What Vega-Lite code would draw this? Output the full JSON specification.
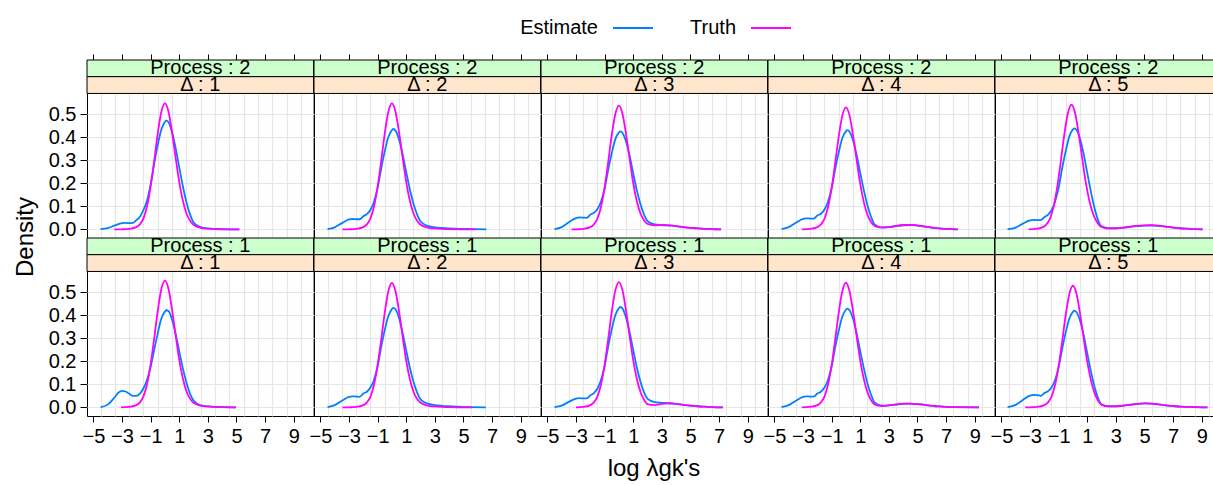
{
"$schema": "https://vega.github.io/schema/vega-lite/v6.json",
"background": "white",
"padding": {"left": 13, "top": 7, "right": 5, "bottom": 5},
"bounds": "flush",
"config": {
  "font": "Liberation Sans",
  "view": {"stroke": "black", "strokeWidth": 1},
  "axis": {"labelFont": "Liberation Sans", "labelFontSize": 20, "labelColor": "black", "tickColor": "black", "labelPadding": 4},
  "header": {"titleFont": "Liberation Sans", "titleFontWeight": "normal", "titleColor": "black", "titleFontSize": 24}
},
"data": {"values": [
{"p":2,"d":1,"s":"Estimate","x":-4.5,"y":0.001},{"p":2,"d":1,"s":"Estimate","x":-4,"y":0.006},{"p":2,"d":1,"s":"Estimate","x":-3.5,"y":0.017},{"p":2,"d":1,"s":"Estimate","x":-3,"y":0.027},{"p":2,"d":1,"s":"Estimate","x":-2.75,"y":0.028},{"p":2,"d":1,"s":"Estimate","x":-2.5,"y":0.027},{"p":2,"d":1,"s":"Estimate","x":-2.25,"y":0.028},{"p":2,"d":1,"s":"Estimate","x":-2,"y":0.04},{"p":2,"d":1,"s":"Estimate","x":-1.75,"y":0.055},{"p":2,"d":1,"s":"Estimate","x":-1.5,"y":0.084},{"p":2,"d":1,"s":"Estimate","x":-1.25,"y":0.125},{"p":2,"d":1,"s":"Estimate","x":-1,"y":0.195},{"p":2,"d":1,"s":"Estimate","x":-0.75,"y":0.286},{"p":2,"d":1,"s":"Estimate","x":-0.5,"y":0.367},{"p":2,"d":1,"s":"Estimate","x":-0.25,"y":0.433},{"p":2,"d":1,"s":"Estimate","x":0,"y":0.466},{"p":2,"d":1,"s":"Estimate","x":0.1,"y":0.471},{"p":2,"d":1,"s":"Estimate","x":0.25,"y":0.464},{"p":2,"d":1,"s":"Estimate","x":0.5,"y":0.421},{"p":2,"d":1,"s":"Estimate","x":0.75,"y":0.352},{"p":2,"d":1,"s":"Estimate","x":1,"y":0.269},{"p":2,"d":1,"s":"Estimate","x":1.25,"y":0.188},{"p":2,"d":1,"s":"Estimate","x":1.5,"y":0.118},{"p":2,"d":1,"s":"Estimate","x":1.75,"y":0.066},{"p":2,"d":1,"s":"Estimate","x":2,"y":0.03},{"p":2,"d":1,"s":"Estimate","x":2.5,"y":0.01},{"p":2,"d":1,"s":"Estimate","x":3,"y":0.004},{"p":2,"d":1,"s":"Estimate","x":3.5,"y":0.002},{"p":2,"d":1,"s":"Estimate","x":4,"y":0.001},{"p":2,"d":1,"s":"Estimate","x":5.2,"y":0},
{"p":2,"d":1,"s":"Truth","x":-3.53,"y":0},{"p":2,"d":1,"s":"Truth","x":-3,"y":0.0005},{"p":2,"d":1,"s":"Truth","x":-2.5,"y":0.002},{"p":2,"d":1,"s":"Truth","x":-2,"y":0.01},{"p":2,"d":1,"s":"Truth","x":-1.75,"y":0.022},{"p":2,"d":1,"s":"Truth","x":-1.5,"y":0.048},{"p":2,"d":1,"s":"Truth","x":-1.25,"y":0.1},{"p":2,"d":1,"s":"Truth","x":-1,"y":0.185},{"p":2,"d":1,"s":"Truth","x":-0.75,"y":0.297},{"p":2,"d":1,"s":"Truth","x":-0.5,"y":0.417},{"p":2,"d":1,"s":"Truth","x":-0.25,"y":0.51},{"p":2,"d":1,"s":"Truth","x":0,"y":0.546},{"p":2,"d":1,"s":"Truth","x":0.25,"y":0.51},{"p":2,"d":1,"s":"Truth","x":0.5,"y":0.42},{"p":2,"d":1,"s":"Truth","x":0.75,"y":0.31},{"p":2,"d":1,"s":"Truth","x":1,"y":0.205},{"p":2,"d":1,"s":"Truth","x":1.25,"y":0.125},{"p":2,"d":1,"s":"Truth","x":1.5,"y":0.07},{"p":2,"d":1,"s":"Truth","x":1.75,"y":0.038},{"p":2,"d":1,"s":"Truth","x":2,"y":0.02},{"p":2,"d":1,"s":"Truth","x":2.5,"y":0.007},{"p":2,"d":1,"s":"Truth","x":3,"y":0.003},{"p":2,"d":1,"s":"Truth","x":3.5,"y":0.001},{"p":2,"d":1,"s":"Truth","x":4,"y":0.0005},{"p":2,"d":1,"s":"Truth","x":5.2,"y":0},
{"p":2,"d":2,"s":"Estimate","x":-4.5,"y":0.001},{"p":2,"d":2,"s":"Estimate","x":-4,"y":0.009},{"p":2,"d":2,"s":"Estimate","x":-3.5,"y":0.027},{"p":2,"d":2,"s":"Estimate","x":-3,"y":0.043},{"p":2,"d":2,"s":"Estimate","x":-2.75,"y":0.045},{"p":2,"d":2,"s":"Estimate","x":-2.5,"y":0.044},{"p":2,"d":2,"s":"Estimate","x":-2.25,"y":0.044},{"p":2,"d":2,"s":"Estimate","x":-2,"y":0.057},{"p":2,"d":2,"s":"Estimate","x":-1.75,"y":0.066},{"p":2,"d":2,"s":"Estimate","x":-1.5,"y":0.085},{"p":2,"d":2,"s":"Estimate","x":-1.25,"y":0.121},{"p":2,"d":2,"s":"Estimate","x":-1,"y":0.18},{"p":2,"d":2,"s":"Estimate","x":-0.75,"y":0.264},{"p":2,"d":2,"s":"Estimate","x":-0.5,"y":0.339},{"p":2,"d":2,"s":"Estimate","x":-0.25,"y":0.4},{"p":2,"d":2,"s":"Estimate","x":0,"y":0.43},{"p":2,"d":2,"s":"Estimate","x":0.1,"y":0.435},{"p":2,"d":2,"s":"Estimate","x":0.25,"y":0.428},{"p":2,"d":2,"s":"Estimate","x":0.5,"y":0.389},{"p":2,"d":2,"s":"Estimate","x":0.75,"y":0.325},{"p":2,"d":2,"s":"Estimate","x":1,"y":0.248},{"p":2,"d":2,"s":"Estimate","x":1.25,"y":0.174},{"p":2,"d":2,"s":"Estimate","x":1.5,"y":0.112},{"p":2,"d":2,"s":"Estimate","x":1.75,"y":0.066},{"p":2,"d":2,"s":"Estimate","x":2,"y":0.034},{"p":2,"d":2,"s":"Estimate","x":2.5,"y":0.015},{"p":2,"d":2,"s":"Estimate","x":3,"y":0.009},{"p":2,"d":2,"s":"Estimate","x":3.5,"y":0.006},{"p":2,"d":2,"s":"Estimate","x":4,"y":0.004},{"p":2,"d":2,"s":"Estimate","x":5,"y":0.002},{"p":2,"d":2,"s":"Estimate","x":6.6,"y":0},
{"p":2,"d":2,"s":"Truth","x":-3.45,"y":0},{"p":2,"d":2,"s":"Truth","x":-3,"y":0.0005},{"p":2,"d":2,"s":"Truth","x":-2.5,"y":0.002},{"p":2,"d":2,"s":"Truth","x":-2,"y":0.01},{"p":2,"d":2,"s":"Truth","x":-1.75,"y":0.022},{"p":2,"d":2,"s":"Truth","x":-1.5,"y":0.048},{"p":2,"d":2,"s":"Truth","x":-1.25,"y":0.1},{"p":2,"d":2,"s":"Truth","x":-1,"y":0.185},{"p":2,"d":2,"s":"Truth","x":-0.75,"y":0.297},{"p":2,"d":2,"s":"Truth","x":-0.5,"y":0.417},{"p":2,"d":2,"s":"Truth","x":-0.25,"y":0.51},{"p":2,"d":2,"s":"Truth","x":0,"y":0.546},{"p":2,"d":2,"s":"Truth","x":0.25,"y":0.51},{"p":2,"d":2,"s":"Truth","x":0.5,"y":0.42},{"p":2,"d":2,"s":"Truth","x":0.75,"y":0.31},{"p":2,"d":2,"s":"Truth","x":1,"y":0.205},{"p":2,"d":2,"s":"Truth","x":1.25,"y":0.125},{"p":2,"d":2,"s":"Truth","x":1.5,"y":0.07},{"p":2,"d":2,"s":"Truth","x":1.75,"y":0.038},{"p":2,"d":2,"s":"Truth","x":2,"y":0.02},{"p":2,"d":2,"s":"Truth","x":2.5,"y":0.008},{"p":2,"d":2,"s":"Truth","x":3,"y":0.004},{"p":2,"d":2,"s":"Truth","x":3.5,"y":0.002},{"p":2,"d":2,"s":"Truth","x":4,"y":0.001},{"p":2,"d":2,"s":"Truth","x":5.86,"y":0},
{"p":2,"d":3,"s":"Estimate","x":-4.5,"y":0.001},{"p":2,"d":3,"s":"Estimate","x":-4,"y":0.01},{"p":2,"d":3,"s":"Estimate","x":-3.5,"y":0.031},{"p":2,"d":3,"s":"Estimate","x":-3,"y":0.049},{"p":2,"d":3,"s":"Estimate","x":-2.75,"y":0.052},{"p":2,"d":3,"s":"Estimate","x":-2.5,"y":0.051},{"p":2,"d":3,"s":"Estimate","x":-2.25,"y":0.05},{"p":2,"d":3,"s":"Estimate","x":-2,"y":0.064},{"p":2,"d":3,"s":"Estimate","x":-1.75,"y":0.072},{"p":2,"d":3,"s":"Estimate","x":-1.5,"y":0.088},{"p":2,"d":3,"s":"Estimate","x":-1.25,"y":0.121},{"p":2,"d":3,"s":"Estimate","x":-1,"y":0.176},{"p":2,"d":3,"s":"Estimate","x":-0.75,"y":0.258},{"p":2,"d":3,"s":"Estimate","x":-0.5,"y":0.331},{"p":2,"d":3,"s":"Estimate","x":-0.25,"y":0.391},{"p":2,"d":3,"s":"Estimate","x":0,"y":0.42},{"p":2,"d":3,"s":"Estimate","x":0.1,"y":0.425},{"p":2,"d":3,"s":"Estimate","x":0.25,"y":0.418},{"p":2,"d":3,"s":"Estimate","x":0.5,"y":0.38},{"p":2,"d":3,"s":"Estimate","x":0.75,"y":0.318},{"p":2,"d":3,"s":"Estimate","x":1,"y":0.242},{"p":2,"d":3,"s":"Estimate","x":1.25,"y":0.17},{"p":2,"d":3,"s":"Estimate","x":1.5,"y":0.11},{"p":2,"d":3,"s":"Estimate","x":1.75,"y":0.065},{"p":2,"d":3,"s":"Estimate","x":2,"y":0.036},{"p":2,"d":3,"s":"Estimate","x":2.5,"y":0.022},{"p":2,"d":3,"s":"Estimate","x":3,"y":0.019},{"p":2,"d":3,"s":"Estimate","x":3.5,"y":0.017},{"p":2,"d":3,"s":"Estimate","x":4,"y":0.014},{"p":2,"d":3,"s":"Estimate","x":4.5,"y":0.01},{"p":2,"d":3,"s":"Estimate","x":5,"y":0.007},{"p":2,"d":3,"s":"Estimate","x":5.5,"y":0.004},{"p":2,"d":3,"s":"Estimate","x":6,"y":0.002},{"p":2,"d":3,"s":"Estimate","x":6.5,"y":0.001},{"p":2,"d":3,"s":"Estimate","x":7.14,"y":0},
{"p":2,"d":3,"s":"Truth","x":-3.31,"y":0},{"p":2,"d":3,"s":"Truth","x":-3,"y":0.0005},{"p":2,"d":3,"s":"Truth","x":-2.5,"y":0.002},{"p":2,"d":3,"s":"Truth","x":-2,"y":0.01},{"p":2,"d":3,"s":"Truth","x":-1.75,"y":0.022},{"p":2,"d":3,"s":"Truth","x":-1.5,"y":0.047},{"p":2,"d":3,"s":"Truth","x":-1.25,"y":0.098},{"p":2,"d":3,"s":"Truth","x":-1,"y":0.182},{"p":2,"d":3,"s":"Truth","x":-0.75,"y":0.292},{"p":2,"d":3,"s":"Truth","x":-0.5,"y":0.41},{"p":2,"d":3,"s":"Truth","x":-0.25,"y":0.5},{"p":2,"d":3,"s":"Truth","x":0,"y":0.536},{"p":2,"d":3,"s":"Truth","x":0.25,"y":0.5},{"p":2,"d":3,"s":"Truth","x":0.5,"y":0.412},{"p":2,"d":3,"s":"Truth","x":0.75,"y":0.304},{"p":2,"d":3,"s":"Truth","x":1,"y":0.2},{"p":2,"d":3,"s":"Truth","x":1.25,"y":0.122},{"p":2,"d":3,"s":"Truth","x":1.5,"y":0.07},{"p":2,"d":3,"s":"Truth","x":1.75,"y":0.04},{"p":2,"d":3,"s":"Truth","x":2,"y":0.024},{"p":2,"d":3,"s":"Truth","x":2.5,"y":0.018},{"p":2,"d":3,"s":"Truth","x":3,"y":0.019},{"p":2,"d":3,"s":"Truth","x":3.5,"y":0.017},{"p":2,"d":3,"s":"Truth","x":4,"y":0.014},{"p":2,"d":3,"s":"Truth","x":4.5,"y":0.01},{"p":2,"d":3,"s":"Truth","x":5,"y":0.007},{"p":2,"d":3,"s":"Truth","x":5.5,"y":0.004},{"p":2,"d":3,"s":"Truth","x":6,"y":0.002},{"p":2,"d":3,"s":"Truth","x":6.5,"y":0.001},{"p":2,"d":3,"s":"Truth","x":7.14,"y":0},
{"p":2,"d":4,"s":"Estimate","x":-4.5,"y":0.001},{"p":2,"d":4,"s":"Estimate","x":-4,"y":0.01},{"p":2,"d":4,"s":"Estimate","x":-3.5,"y":0.029},{"p":2,"d":4,"s":"Estimate","x":-3,"y":0.046},{"p":2,"d":4,"s":"Estimate","x":-2.75,"y":0.048},{"p":2,"d":4,"s":"Estimate","x":-2.5,"y":0.047},{"p":2,"d":4,"s":"Estimate","x":-2.25,"y":0.047},{"p":2,"d":4,"s":"Estimate","x":-2,"y":0.06},{"p":2,"d":4,"s":"Estimate","x":-1.75,"y":0.068},{"p":2,"d":4,"s":"Estimate","x":-1.5,"y":0.086},{"p":2,"d":4,"s":"Estimate","x":-1.25,"y":0.12},{"p":2,"d":4,"s":"Estimate","x":-1,"y":0.178},{"p":2,"d":4,"s":"Estimate","x":-0.75,"y":0.261},{"p":2,"d":4,"s":"Estimate","x":-0.5,"y":0.335},{"p":2,"d":4,"s":"Estimate","x":-0.25,"y":0.396},{"p":2,"d":4,"s":"Estimate","x":0,"y":0.425},{"p":2,"d":4,"s":"Estimate","x":0.1,"y":0.43},{"p":2,"d":4,"s":"Estimate","x":0.25,"y":0.423},{"p":2,"d":4,"s":"Estimate","x":0.5,"y":0.385},{"p":2,"d":4,"s":"Estimate","x":0.75,"y":0.321},{"p":2,"d":4,"s":"Estimate","x":1,"y":0.245},{"p":2,"d":4,"s":"Estimate","x":1.25,"y":0.17},{"p":2,"d":4,"s":"Estimate","x":1.5,"y":0.105},{"p":2,"d":4,"s":"Estimate","x":1.75,"y":0.056},{"p":2,"d":4,"s":"Estimate","x":2,"y":0.022},{"p":2,"d":4,"s":"Estimate","x":2.5,"y":0.009},{"p":2,"d":4,"s":"Estimate","x":3,"y":0.01},{"p":2,"d":4,"s":"Estimate","x":3.5,"y":0.014},{"p":2,"d":4,"s":"Estimate","x":4,"y":0.018},{"p":2,"d":4,"s":"Estimate","x":4.5,"y":0.019},{"p":2,"d":4,"s":"Estimate","x":5,"y":0.016},{"p":2,"d":4,"s":"Estimate","x":5.5,"y":0.012},{"p":2,"d":4,"s":"Estimate","x":6,"y":0.008},{"p":2,"d":4,"s":"Estimate","x":6.5,"y":0.004},{"p":2,"d":4,"s":"Estimate","x":7,"y":0.002},{"p":2,"d":4,"s":"Estimate","x":7.82,"y":0},
{"p":2,"d":4,"s":"Truth","x":-3.08,"y":0},{"p":2,"d":4,"s":"Truth","x":-2.5,"y":0.002},{"p":2,"d":4,"s":"Truth","x":-2,"y":0.01},{"p":2,"d":4,"s":"Truth","x":-1.75,"y":0.021},{"p":2,"d":4,"s":"Truth","x":-1.5,"y":0.046},{"p":2,"d":4,"s":"Truth","x":-1.25,"y":0.097},{"p":2,"d":4,"s":"Truth","x":-1,"y":0.179},{"p":2,"d":4,"s":"Truth","x":-0.75,"y":0.288},{"p":2,"d":4,"s":"Truth","x":-0.5,"y":0.404},{"p":2,"d":4,"s":"Truth","x":-0.25,"y":0.494},{"p":2,"d":4,"s":"Truth","x":0,"y":0.529},{"p":2,"d":4,"s":"Truth","x":0.25,"y":0.494},{"p":2,"d":4,"s":"Truth","x":0.5,"y":0.407},{"p":2,"d":4,"s":"Truth","x":0.75,"y":0.3},{"p":2,"d":4,"s":"Truth","x":1,"y":0.197},{"p":2,"d":4,"s":"Truth","x":1.25,"y":0.118},{"p":2,"d":4,"s":"Truth","x":1.5,"y":0.064},{"p":2,"d":4,"s":"Truth","x":1.75,"y":0.033},{"p":2,"d":4,"s":"Truth","x":2,"y":0.015},{"p":2,"d":4,"s":"Truth","x":2.5,"y":0.008},{"p":2,"d":4,"s":"Truth","x":3,"y":0.01},{"p":2,"d":4,"s":"Truth","x":3.5,"y":0.015},{"p":2,"d":4,"s":"Truth","x":4,"y":0.019},{"p":2,"d":4,"s":"Truth","x":4.5,"y":0.02},{"p":2,"d":4,"s":"Truth","x":5,"y":0.017},{"p":2,"d":4,"s":"Truth","x":5.5,"y":0.013},{"p":2,"d":4,"s":"Truth","x":6,"y":0.008},{"p":2,"d":4,"s":"Truth","x":6.5,"y":0.004},{"p":2,"d":4,"s":"Truth","x":7,"y":0.002},{"p":2,"d":4,"s":"Truth","x":7.82,"y":0},
{"p":2,"d":5,"s":"Estimate","x":-4.57,"y":0.001},{"p":2,"d":5,"s":"Estimate","x":-4,"y":0.008},{"p":2,"d":5,"s":"Estimate","x":-3.5,"y":0.025},{"p":2,"d":5,"s":"Estimate","x":-3,"y":0.039},{"p":2,"d":5,"s":"Estimate","x":-2.75,"y":0.041},{"p":2,"d":5,"s":"Estimate","x":-2.5,"y":0.04},{"p":2,"d":5,"s":"Estimate","x":-2.25,"y":0.04},{"p":2,"d":5,"s":"Estimate","x":-2,"y":0.053},{"p":2,"d":5,"s":"Estimate","x":-1.75,"y":0.063},{"p":2,"d":5,"s":"Estimate","x":-1.5,"y":0.083},{"p":2,"d":5,"s":"Estimate","x":-1.25,"y":0.12},{"p":2,"d":5,"s":"Estimate","x":-1,"y":0.18},{"p":2,"d":5,"s":"Estimate","x":-0.75,"y":0.266},{"p":2,"d":5,"s":"Estimate","x":-0.5,"y":0.341},{"p":2,"d":5,"s":"Estimate","x":-0.25,"y":0.403},{"p":2,"d":5,"s":"Estimate","x":0,"y":0.433},{"p":2,"d":5,"s":"Estimate","x":0.1,"y":0.438},{"p":2,"d":5,"s":"Estimate","x":0.25,"y":0.431},{"p":2,"d":5,"s":"Estimate","x":0.5,"y":0.392},{"p":2,"d":5,"s":"Estimate","x":0.75,"y":0.327},{"p":2,"d":5,"s":"Estimate","x":1,"y":0.245},{"p":2,"d":5,"s":"Estimate","x":1.25,"y":0.165},{"p":2,"d":5,"s":"Estimate","x":1.5,"y":0.095},{"p":2,"d":5,"s":"Estimate","x":1.75,"y":0.042},{"p":2,"d":5,"s":"Estimate","x":2,"y":0.013},{"p":2,"d":5,"s":"Estimate","x":2.5,"y":0.005},{"p":2,"d":5,"s":"Estimate","x":3,"y":0.005},{"p":2,"d":5,"s":"Estimate","x":3.5,"y":0.007},{"p":2,"d":5,"s":"Estimate","x":4,"y":0.011},{"p":2,"d":5,"s":"Estimate","x":4.5,"y":0.014},{"p":2,"d":5,"s":"Estimate","x":5,"y":0.016},{"p":2,"d":5,"s":"Estimate","x":5.5,"y":0.017},{"p":2,"d":5,"s":"Estimate","x":6,"y":0.015},{"p":2,"d":5,"s":"Estimate","x":6.5,"y":0.012},{"p":2,"d":5,"s":"Estimate","x":7,"y":0.008},{"p":2,"d":5,"s":"Estimate","x":7.5,"y":0.005},{"p":2,"d":5,"s":"Estimate","x":8,"y":0.003},{"p":2,"d":5,"s":"Estimate","x":8.5,"y":0.001},{"p":2,"d":5,"s":"Estimate","x":9.06,"y":0},
{"p":2,"d":5,"s":"Truth","x":-3.1,"y":0},{"p":2,"d":5,"s":"Truth","x":-2.6,"y":0.002},{"p":2,"d":5,"s":"Truth","x":-2.1,"y":0.01},{"p":2,"d":5,"s":"Truth","x":-1.85,"y":0.022},{"p":2,"d":5,"s":"Truth","x":-1.6,"y":0.047},{"p":2,"d":5,"s":"Truth","x":-1.35,"y":0.099},{"p":2,"d":5,"s":"Truth","x":-1.1,"y":0.183},{"p":2,"d":5,"s":"Truth","x":-0.85,"y":0.294},{"p":2,"d":5,"s":"Truth","x":-0.6,"y":0.412},{"p":2,"d":5,"s":"Truth","x":-0.35,"y":0.504},{"p":2,"d":5,"s":"Truth","x":-0.1,"y":0.54},{"p":2,"d":5,"s":"Truth","x":0.15,"y":0.504},{"p":2,"d":5,"s":"Truth","x":0.4,"y":0.415},{"p":2,"d":5,"s":"Truth","x":0.65,"y":0.307},{"p":2,"d":5,"s":"Truth","x":0.9,"y":0.203},{"p":2,"d":5,"s":"Truth","x":1.15,"y":0.124},{"p":2,"d":5,"s":"Truth","x":1.4,"y":0.069},{"p":2,"d":5,"s":"Truth","x":1.65,"y":0.035},{"p":2,"d":5,"s":"Truth","x":1.9,"y":0.014},{"p":2,"d":5,"s":"Truth","x":2.25,"y":0.006},{"p":2,"d":5,"s":"Truth","x":2.5,"y":0.004},{"p":2,"d":5,"s":"Truth","x":3,"y":0.005},{"p":2,"d":5,"s":"Truth","x":3.5,"y":0.008},{"p":2,"d":5,"s":"Truth","x":4,"y":0.012},{"p":2,"d":5,"s":"Truth","x":4.5,"y":0.015},{"p":2,"d":5,"s":"Truth","x":5,"y":0.017},{"p":2,"d":5,"s":"Truth","x":5.5,"y":0.018},{"p":2,"d":5,"s":"Truth","x":6,"y":0.016},{"p":2,"d":5,"s":"Truth","x":6.5,"y":0.012},{"p":2,"d":5,"s":"Truth","x":7,"y":0.008},{"p":2,"d":5,"s":"Truth","x":7.5,"y":0.005},{"p":2,"d":5,"s":"Truth","x":8,"y":0.003},{"p":2,"d":5,"s":"Truth","x":8.5,"y":0.001},{"p":2,"d":5,"s":"Truth","x":9.06,"y":0},
{"p":1,"d":1,"s":"Estimate","x":-4.5,"y":0.001},{"p":1,"d":1,"s":"Estimate","x":-4,"y":0.012},{"p":1,"d":1,"s":"Estimate","x":-3.5,"y":0.045},{"p":1,"d":1,"s":"Estimate","x":-3.25,"y":0.064},{"p":1,"d":1,"s":"Estimate","x":-3,"y":0.072},{"p":1,"d":1,"s":"Estimate","x":-2.75,"y":0.069},{"p":1,"d":1,"s":"Estimate","x":-2.5,"y":0.059},{"p":1,"d":1,"s":"Estimate","x":-2.25,"y":0.05},{"p":1,"d":1,"s":"Estimate","x":-2,"y":0.05},{"p":1,"d":1,"s":"Estimate","x":-1.75,"y":0.06},{"p":1,"d":1,"s":"Estimate","x":-1.5,"y":0.083},{"p":1,"d":1,"s":"Estimate","x":-1.25,"y":0.12},{"p":1,"d":1,"s":"Estimate","x":-1,"y":0.175},{"p":1,"d":1,"s":"Estimate","x":-0.75,"y":0.25},{"p":1,"d":1,"s":"Estimate","x":-0.5,"y":0.322},{"p":1,"d":1,"s":"Estimate","x":-0.25,"y":0.385},{"p":1,"d":1,"s":"Estimate","x":0,"y":0.415},{"p":1,"d":1,"s":"Estimate","x":0.1,"y":0.421},{"p":1,"d":1,"s":"Estimate","x":0.25,"y":0.418},{"p":1,"d":1,"s":"Estimate","x":0.5,"y":0.38},{"p":1,"d":1,"s":"Estimate","x":0.75,"y":0.318},{"p":1,"d":1,"s":"Estimate","x":1,"y":0.243},{"p":1,"d":1,"s":"Estimate","x":1.25,"y":0.17},{"p":1,"d":1,"s":"Estimate","x":1.5,"y":0.108},{"p":1,"d":1,"s":"Estimate","x":1.75,"y":0.06},{"p":1,"d":1,"s":"Estimate","x":2,"y":0.03},{"p":1,"d":1,"s":"Estimate","x":2.5,"y":0.009},{"p":1,"d":1,"s":"Estimate","x":3,"y":0.004},{"p":1,"d":1,"s":"Estimate","x":3.5,"y":0.002},{"p":1,"d":1,"s":"Estimate","x":4,"y":0.001},{"p":1,"d":1,"s":"Estimate","x":4.97,"y":0},
{"p":1,"d":1,"s":"Truth","x":-3.07,"y":0},{"p":1,"d":1,"s":"Truth","x":-2.5,"y":0.002},{"p":1,"d":1,"s":"Truth","x":-2,"y":0.01},{"p":1,"d":1,"s":"Truth","x":-1.75,"y":0.022},{"p":1,"d":1,"s":"Truth","x":-1.5,"y":0.048},{"p":1,"d":1,"s":"Truth","x":-1.25,"y":0.1},{"p":1,"d":1,"s":"Truth","x":-1,"y":0.186},{"p":1,"d":1,"s":"Truth","x":-0.75,"y":0.299},{"p":1,"d":1,"s":"Truth","x":-0.5,"y":0.419},{"p":1,"d":1,"s":"Truth","x":-0.25,"y":0.513},{"p":1,"d":1,"s":"Truth","x":0,"y":0.549},{"p":1,"d":1,"s":"Truth","x":0.25,"y":0.513},{"p":1,"d":1,"s":"Truth","x":0.5,"y":0.422},{"p":1,"d":1,"s":"Truth","x":0.75,"y":0.312},{"p":1,"d":1,"s":"Truth","x":1,"y":0.206},{"p":1,"d":1,"s":"Truth","x":1.25,"y":0.126},{"p":1,"d":1,"s":"Truth","x":1.5,"y":0.07},{"p":1,"d":1,"s":"Truth","x":1.75,"y":0.038},{"p":1,"d":1,"s":"Truth","x":2,"y":0.02},{"p":1,"d":1,"s":"Truth","x":2.5,"y":0.008},{"p":1,"d":1,"s":"Truth","x":3,"y":0.004},{"p":1,"d":1,"s":"Truth","x":3.5,"y":0.002},{"p":1,"d":1,"s":"Truth","x":4,"y":0.001},{"p":1,"d":1,"s":"Truth","x":4.97,"y":0},
{"p":1,"d":2,"s":"Estimate","x":-4.5,"y":0.001},{"p":1,"d":2,"s":"Estimate","x":-4,"y":0.01},{"p":1,"d":2,"s":"Estimate","x":-3.5,"y":0.029},{"p":1,"d":2,"s":"Estimate","x":-3,"y":0.046},{"p":1,"d":2,"s":"Estimate","x":-2.75,"y":0.048},{"p":1,"d":2,"s":"Estimate","x":-2.5,"y":0.047},{"p":1,"d":2,"s":"Estimate","x":-2.25,"y":0.046},{"p":1,"d":2,"s":"Estimate","x":-2,"y":0.06},{"p":1,"d":2,"s":"Estimate","x":-1.75,"y":0.068},{"p":1,"d":2,"s":"Estimate","x":-1.5,"y":0.086},{"p":1,"d":2,"s":"Estimate","x":-1.25,"y":0.12},{"p":1,"d":2,"s":"Estimate","x":-1,"y":0.178},{"p":1,"d":2,"s":"Estimate","x":-0.75,"y":0.262},{"p":1,"d":2,"s":"Estimate","x":-0.5,"y":0.336},{"p":1,"d":2,"s":"Estimate","x":-0.25,"y":0.396},{"p":1,"d":2,"s":"Estimate","x":0,"y":0.426},{"p":1,"d":2,"s":"Estimate","x":0.1,"y":0.431},{"p":1,"d":2,"s":"Estimate","x":0.25,"y":0.425},{"p":1,"d":2,"s":"Estimate","x":0.5,"y":0.386},{"p":1,"d":2,"s":"Estimate","x":0.75,"y":0.322},{"p":1,"d":2,"s":"Estimate","x":1,"y":0.246},{"p":1,"d":2,"s":"Estimate","x":1.25,"y":0.173},{"p":1,"d":2,"s":"Estimate","x":1.5,"y":0.112},{"p":1,"d":2,"s":"Estimate","x":1.75,"y":0.066},{"p":1,"d":2,"s":"Estimate","x":2,"y":0.035},{"p":1,"d":2,"s":"Estimate","x":2.5,"y":0.016},{"p":1,"d":2,"s":"Estimate","x":3,"y":0.01},{"p":1,"d":2,"s":"Estimate","x":3.5,"y":0.007},{"p":1,"d":2,"s":"Estimate","x":4,"y":0.005},{"p":1,"d":2,"s":"Estimate","x":5,"y":0.002},{"p":1,"d":2,"s":"Estimate","x":6.56,"y":0},
{"p":1,"d":2,"s":"Truth","x":-3.45,"y":0},{"p":1,"d":2,"s":"Truth","x":-3,"y":0.0005},{"p":1,"d":2,"s":"Truth","x":-2.5,"y":0.002},{"p":1,"d":2,"s":"Truth","x":-2,"y":0.01},{"p":1,"d":2,"s":"Truth","x":-1.75,"y":0.022},{"p":1,"d":2,"s":"Truth","x":-1.5,"y":0.047},{"p":1,"d":2,"s":"Truth","x":-1.25,"y":0.099},{"p":1,"d":2,"s":"Truth","x":-1,"y":0.183},{"p":1,"d":2,"s":"Truth","x":-0.75,"y":0.293},{"p":1,"d":2,"s":"Truth","x":-0.5,"y":0.412},{"p":1,"d":2,"s":"Truth","x":-0.25,"y":0.503},{"p":1,"d":2,"s":"Truth","x":0,"y":0.539},{"p":1,"d":2,"s":"Truth","x":0.25,"y":0.503},{"p":1,"d":2,"s":"Truth","x":0.5,"y":0.415},{"p":1,"d":2,"s":"Truth","x":0.75,"y":0.306},{"p":1,"d":2,"s":"Truth","x":1,"y":0.202},{"p":1,"d":2,"s":"Truth","x":1.25,"y":0.123},{"p":1,"d":2,"s":"Truth","x":1.5,"y":0.069},{"p":1,"d":2,"s":"Truth","x":1.75,"y":0.037},{"p":1,"d":2,"s":"Truth","x":2,"y":0.02},{"p":1,"d":2,"s":"Truth","x":2.5,"y":0.008},{"p":1,"d":2,"s":"Truth","x":3,"y":0.004},{"p":1,"d":2,"s":"Truth","x":3.5,"y":0.002},{"p":1,"d":2,"s":"Truth","x":4,"y":0.001},{"p":1,"d":2,"s":"Truth","x":5.57,"y":0},
{"p":1,"d":3,"s":"Estimate","x":-4.5,"y":0.001},{"p":1,"d":3,"s":"Estimate","x":-4,"y":0.008},{"p":1,"d":3,"s":"Estimate","x":-3.5,"y":0.024},{"p":1,"d":3,"s":"Estimate","x":-3,"y":0.038},{"p":1,"d":3,"s":"Estimate","x":-2.75,"y":0.04},{"p":1,"d":3,"s":"Estimate","x":-2.5,"y":0.039},{"p":1,"d":3,"s":"Estimate","x":-2.25,"y":0.039},{"p":1,"d":3,"s":"Estimate","x":-2,"y":0.052},{"p":1,"d":3,"s":"Estimate","x":-1.75,"y":0.062},{"p":1,"d":3,"s":"Estimate","x":-1.5,"y":0.082},{"p":1,"d":3,"s":"Estimate","x":-1.25,"y":0.12},{"p":1,"d":3,"s":"Estimate","x":-1,"y":0.179},{"p":1,"d":3,"s":"Estimate","x":-0.75,"y":0.264},{"p":1,"d":3,"s":"Estimate","x":-0.5,"y":0.339},{"p":1,"d":3,"s":"Estimate","x":-0.25,"y":0.4},{"p":1,"d":3,"s":"Estimate","x":0,"y":0.43},{"p":1,"d":3,"s":"Estimate","x":0.1,"y":0.435},{"p":1,"d":3,"s":"Estimate","x":0.25,"y":0.428},{"p":1,"d":3,"s":"Estimate","x":0.5,"y":0.389},{"p":1,"d":3,"s":"Estimate","x":0.75,"y":0.325},{"p":1,"d":3,"s":"Estimate","x":1,"y":0.248},{"p":1,"d":3,"s":"Estimate","x":1.25,"y":0.174},{"p":1,"d":3,"s":"Estimate","x":1.5,"y":0.112},{"p":1,"d":3,"s":"Estimate","x":1.75,"y":0.066},{"p":1,"d":3,"s":"Estimate","x":2,"y":0.037},{"p":1,"d":3,"s":"Estimate","x":2.5,"y":0.023},{"p":1,"d":3,"s":"Estimate","x":3,"y":0.02},{"p":1,"d":3,"s":"Estimate","x":3.5,"y":0.018},{"p":1,"d":3,"s":"Estimate","x":4,"y":0.015},{"p":1,"d":3,"s":"Estimate","x":4.5,"y":0.011},{"p":1,"d":3,"s":"Estimate","x":5,"y":0.008},{"p":1,"d":3,"s":"Estimate","x":5.5,"y":0.005},{"p":1,"d":3,"s":"Estimate","x":6,"y":0.003},{"p":1,"d":3,"s":"Estimate","x":6.5,"y":0.001},{"p":1,"d":3,"s":"Estimate","x":7.26,"y":0},
{"p":1,"d":3,"s":"Truth","x":-3,"y":0},{"p":1,"d":3,"s":"Truth","x":-2.5,"y":0.002},{"p":1,"d":3,"s":"Truth","x":-2,"y":0.01},{"p":1,"d":3,"s":"Truth","x":-1.75,"y":0.022},{"p":1,"d":3,"s":"Truth","x":-1.5,"y":0.048},{"p":1,"d":3,"s":"Truth","x":-1.25,"y":0.1},{"p":1,"d":3,"s":"Truth","x":-1,"y":0.184},{"p":1,"d":3,"s":"Truth","x":-0.75,"y":0.295},{"p":1,"d":3,"s":"Truth","x":-0.5,"y":0.415},{"p":1,"d":3,"s":"Truth","x":-0.25,"y":0.507},{"p":1,"d":3,"s":"Truth","x":0,"y":0.543},{"p":1,"d":3,"s":"Truth","x":0.25,"y":0.507},{"p":1,"d":3,"s":"Truth","x":0.5,"y":0.418},{"p":1,"d":3,"s":"Truth","x":0.75,"y":0.308},{"p":1,"d":3,"s":"Truth","x":1,"y":0.204},{"p":1,"d":3,"s":"Truth","x":1.25,"y":0.124},{"p":1,"d":3,"s":"Truth","x":1.5,"y":0.068},{"p":1,"d":3,"s":"Truth","x":1.75,"y":0.034},{"p":1,"d":3,"s":"Truth","x":2,"y":0.014},{"p":1,"d":3,"s":"Truth","x":2.5,"y":0.01},{"p":1,"d":3,"s":"Truth","x":3,"y":0.015},{"p":1,"d":3,"s":"Truth","x":3.5,"y":0.017},{"p":1,"d":3,"s":"Truth","x":4,"y":0.015},{"p":1,"d":3,"s":"Truth","x":4.5,"y":0.011},{"p":1,"d":3,"s":"Truth","x":5,"y":0.008},{"p":1,"d":3,"s":"Truth","x":5.5,"y":0.005},{"p":1,"d":3,"s":"Truth","x":6,"y":0.003},{"p":1,"d":3,"s":"Truth","x":6.5,"y":0.001},{"p":1,"d":3,"s":"Truth","x":7.26,"y":0},
{"p":1,"d":4,"s":"Estimate","x":-4.5,"y":0.001},{"p":1,"d":4,"s":"Estimate","x":-4,"y":0.01},{"p":1,"d":4,"s":"Estimate","x":-3.5,"y":0.029},{"p":1,"d":4,"s":"Estimate","x":-3,"y":0.046},{"p":1,"d":4,"s":"Estimate","x":-2.75,"y":0.048},{"p":1,"d":4,"s":"Estimate","x":-2.5,"y":0.047},{"p":1,"d":4,"s":"Estimate","x":-2.25,"y":0.047},{"p":1,"d":4,"s":"Estimate","x":-2,"y":0.06},{"p":1,"d":4,"s":"Estimate","x":-1.75,"y":0.068},{"p":1,"d":4,"s":"Estimate","x":-1.5,"y":0.086},{"p":1,"d":4,"s":"Estimate","x":-1.25,"y":0.12},{"p":1,"d":4,"s":"Estimate","x":-1,"y":0.177},{"p":1,"d":4,"s":"Estimate","x":-0.75,"y":0.26},{"p":1,"d":4,"s":"Estimate","x":-0.5,"y":0.334},{"p":1,"d":4,"s":"Estimate","x":-0.25,"y":0.394},{"p":1,"d":4,"s":"Estimate","x":0,"y":0.423},{"p":1,"d":4,"s":"Estimate","x":0.1,"y":0.428},{"p":1,"d":4,"s":"Estimate","x":0.25,"y":0.421},{"p":1,"d":4,"s":"Estimate","x":0.5,"y":0.383},{"p":1,"d":4,"s":"Estimate","x":0.75,"y":0.32},{"p":1,"d":4,"s":"Estimate","x":1,"y":0.244},{"p":1,"d":4,"s":"Estimate","x":1.25,"y":0.17},{"p":1,"d":4,"s":"Estimate","x":1.5,"y":0.105},{"p":1,"d":4,"s":"Estimate","x":1.75,"y":0.056},{"p":1,"d":4,"s":"Estimate","x":2,"y":0.022},{"p":1,"d":4,"s":"Estimate","x":2.5,"y":0.008},{"p":1,"d":4,"s":"Estimate","x":3,"y":0.009},{"p":1,"d":4,"s":"Estimate","x":3.5,"y":0.012},{"p":1,"d":4,"s":"Estimate","x":4,"y":0.015},{"p":1,"d":4,"s":"Estimate","x":4.5,"y":0.016},{"p":1,"d":4,"s":"Estimate","x":5,"y":0.014},{"p":1,"d":4,"s":"Estimate","x":5.5,"y":0.011},{"p":1,"d":4,"s":"Estimate","x":6,"y":0.007},{"p":1,"d":4,"s":"Estimate","x":6.5,"y":0.004},{"p":1,"d":4,"s":"Estimate","x":7,"y":0.002},{"p":1,"d":4,"s":"Estimate","x":7.5,"y":0.001},{"p":1,"d":4,"s":"Estimate","x":9.3,"y":0},
{"p":1,"d":4,"s":"Truth","x":-3.08,"y":0},{"p":1,"d":4,"s":"Truth","x":-2.5,"y":0.002},{"p":1,"d":4,"s":"Truth","x":-2,"y":0.01},{"p":1,"d":4,"s":"Truth","x":-1.75,"y":0.022},{"p":1,"d":4,"s":"Truth","x":-1.5,"y":0.047},{"p":1,"d":4,"s":"Truth","x":-1.25,"y":0.099},{"p":1,"d":4,"s":"Truth","x":-1,"y":0.183},{"p":1,"d":4,"s":"Truth","x":-0.75,"y":0.294},{"p":1,"d":4,"s":"Truth","x":-0.5,"y":0.412},{"p":1,"d":4,"s":"Truth","x":-0.25,"y":0.504},{"p":1,"d":4,"s":"Truth","x":0,"y":0.54},{"p":1,"d":4,"s":"Truth","x":0.25,"y":0.504},{"p":1,"d":4,"s":"Truth","x":0.5,"y":0.415},{"p":1,"d":4,"s":"Truth","x":0.75,"y":0.307},{"p":1,"d":4,"s":"Truth","x":1,"y":0.203},{"p":1,"d":4,"s":"Truth","x":1.25,"y":0.123},{"p":1,"d":4,"s":"Truth","x":1.5,"y":0.066},{"p":1,"d":4,"s":"Truth","x":1.75,"y":0.032},{"p":1,"d":4,"s":"Truth","x":2,"y":0.013},{"p":1,"d":4,"s":"Truth","x":2.5,"y":0.006},{"p":1,"d":4,"s":"Truth","x":3,"y":0.009},{"p":1,"d":4,"s":"Truth","x":3.5,"y":0.013},{"p":1,"d":4,"s":"Truth","x":4,"y":0.016},{"p":1,"d":4,"s":"Truth","x":4.5,"y":0.016},{"p":1,"d":4,"s":"Truth","x":5,"y":0.014},{"p":1,"d":4,"s":"Truth","x":5.5,"y":0.011},{"p":1,"d":4,"s":"Truth","x":6,"y":0.007},{"p":1,"d":4,"s":"Truth","x":6.5,"y":0.004},{"p":1,"d":4,"s":"Truth","x":7,"y":0.002},{"p":1,"d":4,"s":"Truth","x":7.5,"y":0.001},{"p":1,"d":4,"s":"Truth","x":9.3,"y":0},
{"p":1,"d":5,"s":"Estimate","x":-4.57,"y":0.001},{"p":1,"d":5,"s":"Estimate","x":-4,"y":0.011},{"p":1,"d":5,"s":"Estimate","x":-3.5,"y":0.032},{"p":1,"d":5,"s":"Estimate","x":-3,"y":0.051},{"p":1,"d":5,"s":"Estimate","x":-2.75,"y":0.054},{"p":1,"d":5,"s":"Estimate","x":-2.5,"y":0.053},{"p":1,"d":5,"s":"Estimate","x":-2.25,"y":0.05},{"p":1,"d":5,"s":"Estimate","x":-2,"y":0.062},{"p":1,"d":5,"s":"Estimate","x":-1.75,"y":0.07},{"p":1,"d":5,"s":"Estimate","x":-1.5,"y":0.086},{"p":1,"d":5,"s":"Estimate","x":-1.25,"y":0.119},{"p":1,"d":5,"s":"Estimate","x":-1,"y":0.174},{"p":1,"d":5,"s":"Estimate","x":-0.75,"y":0.254},{"p":1,"d":5,"s":"Estimate","x":-0.5,"y":0.326},{"p":1,"d":5,"s":"Estimate","x":-0.25,"y":0.385},{"p":1,"d":5,"s":"Estimate","x":0,"y":0.414},{"p":1,"d":5,"s":"Estimate","x":0.1,"y":0.419},{"p":1,"d":5,"s":"Estimate","x":0.25,"y":0.412},{"p":1,"d":5,"s":"Estimate","x":0.5,"y":0.375},{"p":1,"d":5,"s":"Estimate","x":0.75,"y":0.313},{"p":1,"d":5,"s":"Estimate","x":1,"y":0.235},{"p":1,"d":5,"s":"Estimate","x":1.25,"y":0.158},{"p":1,"d":5,"s":"Estimate","x":1.5,"y":0.092},{"p":1,"d":5,"s":"Estimate","x":1.75,"y":0.041},{"p":1,"d":5,"s":"Estimate","x":2,"y":0.012},{"p":1,"d":5,"s":"Estimate","x":2.5,"y":0.005},{"p":1,"d":5,"s":"Estimate","x":3,"y":0.005},{"p":1,"d":5,"s":"Estimate","x":3.5,"y":0.008},{"p":1,"d":5,"s":"Estimate","x":4,"y":0.012},{"p":1,"d":5,"s":"Estimate","x":4.5,"y":0.015},{"p":1,"d":5,"s":"Estimate","x":5,"y":0.017},{"p":1,"d":5,"s":"Estimate","x":5.5,"y":0.016},{"p":1,"d":5,"s":"Estimate","x":6,"y":0.013},{"p":1,"d":5,"s":"Estimate","x":6.5,"y":0.009},{"p":1,"d":5,"s":"Estimate","x":7,"y":0.006},{"p":1,"d":5,"s":"Estimate","x":7.5,"y":0.003},{"p":1,"d":5,"s":"Estimate","x":8,"y":0.002},{"p":1,"d":5,"s":"Estimate","x":8.5,"y":0.001},{"p":1,"d":5,"s":"Estimate","x":9.4,"y":0},
{"p":1,"d":5,"s":"Truth","x":-3.33,"y":0},{"p":1,"d":5,"s":"Truth","x":-3,"y":0.0005},{"p":1,"d":5,"s":"Truth","x":-2.5,"y":0.002},{"p":1,"d":5,"s":"Truth","x":-2,"y":0.01},{"p":1,"d":5,"s":"Truth","x":-1.75,"y":0.021},{"p":1,"d":5,"s":"Truth","x":-1.5,"y":0.046},{"p":1,"d":5,"s":"Truth","x":-1.25,"y":0.097},{"p":1,"d":5,"s":"Truth","x":-1,"y":0.179},{"p":1,"d":5,"s":"Truth","x":-0.75,"y":0.287},{"p":1,"d":5,"s":"Truth","x":-0.5,"y":0.402},{"p":1,"d":5,"s":"Truth","x":-0.25,"y":0.492},{"p":1,"d":5,"s":"Truth","x":0,"y":0.527},{"p":1,"d":5,"s":"Truth","x":0.25,"y":0.492},{"p":1,"d":5,"s":"Truth","x":0.5,"y":0.405},{"p":1,"d":5,"s":"Truth","x":0.75,"y":0.299},{"p":1,"d":5,"s":"Truth","x":1,"y":0.198},{"p":1,"d":5,"s":"Truth","x":1.25,"y":0.12},{"p":1,"d":5,"s":"Truth","x":1.5,"y":0.064},{"p":1,"d":5,"s":"Truth","x":1.75,"y":0.03},{"p":1,"d":5,"s":"Truth","x":2,"y":0.012},{"p":1,"d":5,"s":"Truth","x":2.5,"y":0.004},{"p":1,"d":5,"s":"Truth","x":3,"y":0.004},{"p":1,"d":5,"s":"Truth","x":3.5,"y":0.007},{"p":1,"d":5,"s":"Truth","x":4,"y":0.011},{"p":1,"d":5,"s":"Truth","x":4.5,"y":0.015},{"p":1,"d":5,"s":"Truth","x":5,"y":0.017},{"p":1,"d":5,"s":"Truth","x":5.5,"y":0.016},{"p":1,"d":5,"s":"Truth","x":6,"y":0.013},{"p":1,"d":5,"s":"Truth","x":6.5,"y":0.009},{"p":1,"d":5,"s":"Truth","x":7,"y":0.006},{"p":1,"d":5,"s":"Truth","x":7.5,"y":0.003},{"p":1,"d":5,"s":"Truth","x":8,"y":0.002},{"p":1,"d":5,"s":"Truth","x":8.5,"y":0.001},{"p":1,"d":5,"s":"Truth","x":9.4,"y":0}
]},
"facet": {
  "row": {"field": "p", "type": "ordinal", "sort": "descending", "header": {"labels": false, "title": "Density", "titlePadding": 0}},
  "column": {"field": "d", "type": "ordinal", "header": {"labels": false, "title": "log λgk's", "titleOrient": "bottom", "titlePadding": 1}}
},
"spacing": 0,
"spec": {
  "width": 226.6,
  "height": 178,
  "layer": [
    {
      "mark": {"type": "line", "interpolate": "monotone", "strokeWidth": 1.8},
      "encoding": {
        "x": {"field": "x", "type": "quantitative", "scale": {"domain": [-5.447, 10.39], "nice": false, "zero": false},
              "axis": {"orient": "bottom", "values": [-5, -3, -1, 1, 3, 5, 7, 9], "grid": false, "domain": false, "tickSize": 6, "title": null}},
        "y": {"field": "y", "type": "quantitative", "scale": {"domain": [-0.0373, 0.734], "nice": false, "zero": false},
              "axis": {"orient": "left", "values": [0, 0.1, 0.2, 0.3, 0.4, 0.5], "format": ".1f", "grid": true, "gridColor": "#e6e6e6", "gridWidth": 1.2, "domain": false, "tickSize": 7, "title": null}},
        "color": {"field": "s", "type": "nominal", "scale": {"domain": ["Estimate", "Truth"], "range": ["#0080ff", "#ff00ff"]},
                  "legend": {"title": null, "orient": "none", "legendX": 525, "legendY": -53, "direction": "horizontal", "symbolType": "stroke", "symbolSize": 1600, "symbolStrokeWidth": 1.8, "labelFontSize": 20, "labelColor": "black", "labelFont": "Liberation Sans", "labelAlign": "right", "labelOffset": -56, "columnPadding": 33}}
      }
    },
    {
      "transform": [{"aggregate": [{"op": "count", "as": "n"}], "groupby": ["p", "d"]}],
      "mark": {"type": "rect", "fill": "#ccffcc", "stroke": "black", "strokeWidth": 1},
      "encoding": {
        "x": {"datum": -5.447, "type": "quantitative", "axis": {"orient": "top", "values": [-4.5, -3.5, -2.5, -1.5, -0.5, 0.5, 1.5, 2.5, 3.5, 4.5, 5.5, 6.5, 7.5, 8.5, 9.5], "grid": true, "gridColor": "#e6e6e6", "gridWidth": 1.2, "ticks": false, "labels": false, "domain": false, "title": null}},
        "x2": {"datum": 10.39},
        "y": {"datum": 0.6617, "type": "quantitative", "axis": {"orient": "left", "values": [0, 0.1, 0.2, 0.3, 0.4, 0.5], "format": ".1f", "grid": true, "gridColor": "#e6e6e6", "gridWidth": 1.2, "domain": false, "tickSize": 7, "title": null}},
        "y2": {"datum": 0.734}
      }
    },
    {
      "transform": [{"aggregate": [{"op": "count", "as": "n"}], "groupby": ["p", "d"]}],
      "mark": {"type": "rect", "fill": "#ffe5cc", "stroke": "black", "strokeWidth": 1},
      "encoding": {
        "x": {"datum": -5.447, "type": "quantitative", "axis": null},
        "x2": {"datum": 10.39},
        "y": {"datum": 0.589, "type": "quantitative", "axis": {"orient": "left", "values": [0, 0.1, 0.2, 0.3, 0.4, 0.5], "format": ".1f", "grid": true, "gridColor": "#e6e6e6", "gridWidth": 1.2, "domain": false, "tickSize": 7, "title": null}},
        "y2": {"datum": 0.6617}
      }
    },
    {
      "transform": [{"aggregate": [{"op": "count", "as": "n"}], "groupby": ["p", "d"]}],
      "mark": {"type": "text", "fontSize": 20, "font": "Liberation Sans", "color": "black", "baseline": "middle", "align": "center", "text": {"expr": "'Process : ' + datum.p"}},
      "encoding": {
        "x": {"datum": 2.47, "type": "quantitative", "axis": {"orient": "top", "values": [-5, -3, -1, 1, 3, 5, 7, 9], "grid": false, "labels": false, "domain": false, "ticks": true, "tickSize": 6, "title": null}},
        "y": {"datum": 0.698, "type": "quantitative", "axis": {"orient": "left", "values": [0, 0.1, 0.2, 0.3, 0.4, 0.5], "format": ".1f", "grid": true, "gridColor": "#e6e6e6", "gridWidth": 1.2, "domain": false, "tickSize": 7, "title": null}}
      }
    },
    {
      "transform": [{"aggregate": [{"op": "count", "as": "n"}], "groupby": ["p", "d"]}],
      "mark": {"type": "text", "fontSize": 20, "font": "Liberation Sans", "color": "black", "baseline": "middle", "align": "center", "text": {"expr": "'Δ : ' + datum.d"}},
      "encoding": {
        "x": {"datum": 2.47, "type": "quantitative", "axis": null},
        "y": {"datum": 0.6254, "type": "quantitative", "axis": {"orient": "left", "values": [0, 0.1, 0.2, 0.3, 0.4, 0.5], "format": ".1f", "grid": true, "gridColor": "#e6e6e6", "gridWidth": 1.2, "domain": false, "tickSize": 7, "title": null}}
      }
    }
  ]
}
}
